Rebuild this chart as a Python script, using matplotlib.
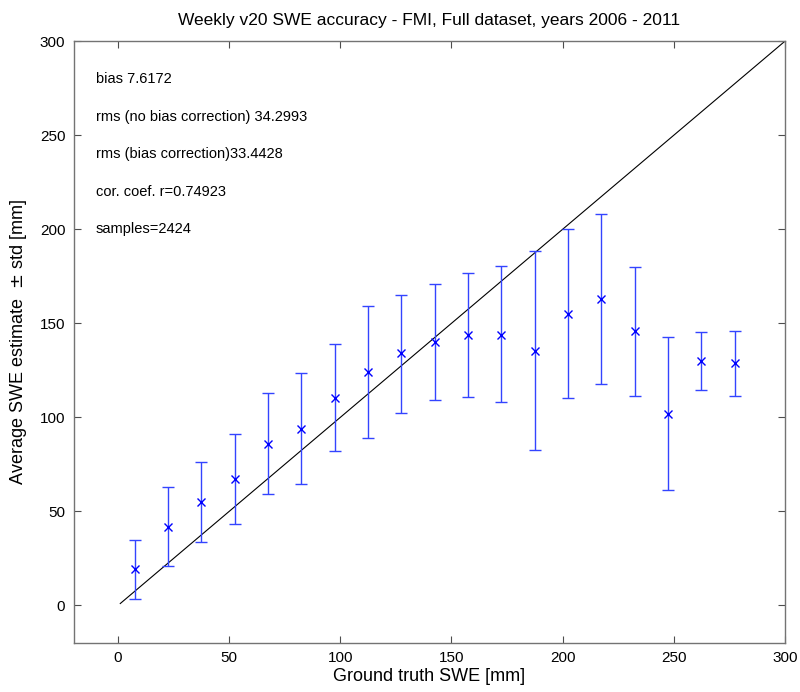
import numpy as np
import matplotlib
matplotlib.use("Agg")
import matplotlib.pyplot as plt

plt.rcParams['font.family'] = ['Liberation Sans', 'DejaVu Sans']

# bin centres (ground truth SWE) and mean estimate +/- std
truth = [7.5, 22.5, 37.5, 52.5, 67.5, 82.5, 97.5, 112.5, 127.5, 142.5,
         157.5, 172.5, 187.5, 202.5, 217.5, 232.5, 247.5, 262.5, 277.5]
est_mean = [19.1, 41.8, 54.8, 67.0, 85.6, 93.9, 110.1, 124.1, 134.0, 139.9,
            143.6, 143.9, 135.3, 155.1, 162.8, 145.9, 102.0, 130.1, 128.7]
est_upper = [34.6, 62.8, 76.1, 91.1, 112.8, 123.7, 138.8, 159.0, 165.3, 170.7,
             176.8, 180.3, 188.3, 200.3, 208.0, 180.1, 142.6, 145.5, 146.1]
est_lower = [3.5, 21.1, 33.7, 43.1, 59.0, 64.4, 81.9, 89.1, 102.3, 109.0,
             111.0, 108.0, 82.8, 110.1, 117.6, 111.5, 61.5, 114.5, 111.2]

stats = ["bias 7.6172",
         "rms (no bias correction) 34.2993",
         "rms (bias correction)33.4428",
         "cor. coef. r=0.74923",
         "samples=2424"]
stats_y = [280, 260, 240, 220, 200]

est_mean = np.array(est_mean)
err = [est_mean - np.array(est_lower), np.array(est_upper) - est_mean]

fig = plt.figure(figsize=(8, 6.92), dpi=100)
ax = fig.add_axes([0.092, 0.0708, 0.889, 0.8695])

ax.plot([1, 300], [1, 300], color='k', lw=0.8)
ax.errorbar(truth, est_mean, yerr=err, fmt='x', color='#0000ff', ecolor='#3344ff',
            elinewidth=1.0, capsize=4.5, capthick=1.0, markersize=5.5, mew=1.0)

for s, yy in zip(stats, stats_y):
    ax.text(-10, yy, s, fontsize=10.5, va='center', ha='left')

ax.set_xlim(-20, 300)
ax.set_ylim(-20, 300)
ax.set_xticks(np.arange(0, 301, 50))
ax.set_yticks(np.arange(0, 301, 50))
ax.tick_params(direction='in', top=True, right=True, length=5, width=0.8,
               color='0.3', labelsize=11, pad=6)
for sp in ax.spines.values():
    sp.set_color('0.45')
    sp.set_linewidth(1.0)

ax.set_title("Weekly v20 SWE accuracy - FMI, Full dataset, years 2006 - 2011",
             fontsize=12.5, pad=12)
ax.set_xlabel("Ground truth SWE [mm]", fontsize=13, labelpad=2)
ax.set_ylabel(r"Average SWE estimate  $\pm$ std [mm]", fontsize=13, labelpad=8)

fig.savefig("out.png", dpi=100)
